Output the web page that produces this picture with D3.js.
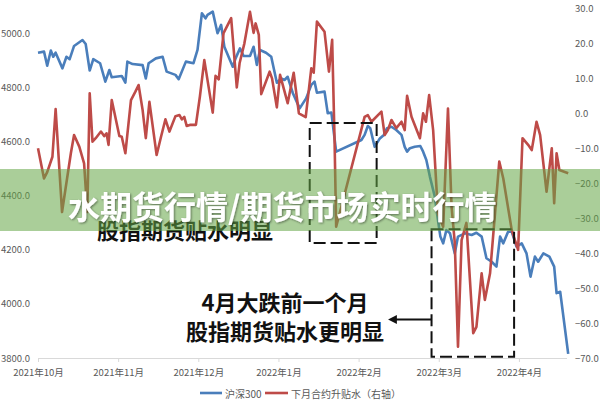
<!DOCTYPE html>
<html>
<head>
<meta charset="utf-8">
<script src="https://cdn.jsdelivr.net/npm/d3@7"></script>
<style>
html,body{margin:0;padding:0;background:#fff;}
svg{display:block;}
text{font-family:"Noto Sans CJK SC","Noto Sans",sans-serif;}
</style>
</head>
<body>
<svg id="chart" width="600" height="400"></svg>
<script>
// ---- data ----
// x position = trading-day index along the category axis
const hs300T = [0,1.5,2.3,3.2,3.8,4.4,6.1,7.1,7.9,9.0,11.1,11.9,12.9,13.8,15.5,16.8,17.8,18.4,20.9,21.8,22.3,23.6,26.1,26.9,27.6,29.4,31.1,32.1,34.3,35.1,36.9,38.8,39.8,40.9,41.8,42.3,43.6,44.8,45.7,46.5,48.6,49.3,50.4,51.3,52.9,53.8,54.6,55.4,56.9,58.2,59.6,60.7,61.5,62.3,63.6,65.3,66.9,68.2,69.0,69.6,71.5,72.3,73.2,74.4,80.7,81.5,82.3,82.9,84.0,85.3,86.3,87.1,88.2,89.4,90.7,91.5,92.1,92.8,94.0,95.4,96.1,96.9,97.8,99.0,99.8,100.4,101.1,101.9,102.8,104.0,104.8,106.5,108.2,109.4,110.7,111.9,113.2,114.4,115.3,116.1,117.3,118.2,119.4,120.7,121.9,122.9,124.0,124.8,126.1,127.6,128.8,129.4,130.3,132.3];
const hs300V = [4929,4933,4881,4937,4914,4929,4871,4914,4905,4954,4976,4961,4863,4905,4890,4822,4865,4838,4843,4818,4896,4887,4883,4834,4890,4908,4914,4859,4847,4831,4896,4890,4939,5075,5056,5069,5081,5001,5032,4951,4877,4908,4945,4917,4917,4951,4884,4939,4929,4914,4818,4834,4828,4840,4779,4723,4760,4810,4822,4781,4785,4705,4708,4563,4606,4625,4658,4650,4581,4612,4625,4650,4655,4643,4625,4581,4563,4576,4581,4584,4563,4532,4470,4397,4310,4249,4224,4273,4261,4187,4249,4261,4255,4263,4249,4169,4156,4138,4249,4224,4267,4267,4212,4224,4187,4101,4175,4156,4187,4175,4138,4040,4045,3815];

const basisT = [0,1.5,2.3,3.6,4.4,6.0,8.2,9.0,10.3,11.5,12.3,12.9,13.6,14.4,15.7,16.5,17.1,17.6,18.4,20.3,20.9,21.8,23.2,24.3,25.1,26.1,26.9,27.8,29.6,30.7,31.8,32.8,34.3,35.3,35.9,36.5,37.1,37.9,39.4,40.4,41.5,42.3,43.6,44.3,45.1,46.3,48.2,49.6,50.3,51.5,52.9,53.8,54.3,55.1,55.7,57.8,58.4,59.6,60.4,62.3,63.8,65.1,66.8,68.2,68.8,69.6,71.5,72.6,73.4,74.0,74.4,81.5,82.3,83.2,85.7,86.5,87.3,88.2,89.4,90.7,91.5,92.1,93.2,95.3,96.1,96.8,97.6,98.6,99.8,101.1,102.3,103.2,104.0,104.8,105.7,106.9,108.6,109.4,110.7,111.5,112.8,115.1,116.1,118.2,119.0,119.8,120.9,122.3,123.2,124.4,125.3,126.9,128.2,128.8,129.4,130.1,132.3];
const basisV = [-10.1,-18.7,-16.9,-12.5,1.1,-28.3,-11.5,-6.3,-9.6,-14.4,-28.3,5.6,-8.2,-7.2,-5.3,-6.6,-5.8,-9.1,3.7,-6.6,-6.8,-11.5,3.7,6.1,8.0,0.9,-7.2,3.2,-12.0,-6.8,-1.8,-5.3,-0.9,-0.6,-1.8,-1.1,-3.7,-3.4,-3.4,4.7,15.1,9.4,0.1,10.6,9.6,22.8,27.1,7.3,14.2,19.9,28.9,22.9,25.6,22.3,5.4,11.8,9.9,1.6,10.9,2.8,11.5,-0.1,-1.2,12.8,11.5,26.1,23.2,11.8,20.9,-7.7,-32.5,-1.1,-0.6,-2.5,0.4,-6.3,-4.9,-2.0,-4.3,-2.5,-4.9,4.9,-1.1,-7.2,-0.1,-2.5,5.1,-4.9,-28.7,-32.5,1.3,-26.8,-37.1,-66.8,-36.3,-31.4,-62.9,-61.1,-45.8,-53.4,-45.8,-13.9,-18.7,-33.4,-36.3,-39.1,-7.2,-9.1,-10.6,-2.5,-6.3,-22.5,-10.1,-25.8,-11.5,-16.3,-17.2];

const xTickT = [0,20,40,60,80,100,120];
const xTickLabels = ["2021年10月","2021年11月","2021年12月","2022年1月","2022年2月","2022年3月","2022年4月"];
const leftTicks = [3800,4000,4200,4400,4600,4800,5000];
const rightTicks = [-70,-60,-50,-40,-30,-20,-10,0,10,20,30];
const seriesNames = ["沪深300","下月合约升贴水（右轴）"];
// annotation boxes in data units: [t0, t1, leftValueTop, leftValueBottom]
const boxes = [[67.8,84.5,4669,4225],[98.2,118.8,4276,3805]];

// ---- chart ----
const svg = d3.select("#chart");
const x = d3.scaleLinear().domain([0,132]).range([38,567]);
const yL = d3.scaleLinear().domain([3800,5000]).range([358,33.5]);
const yR = d3.scaleLinear().domain([-70,30]).range([358,8]);

const blue = "#4a7ebb", red = "#be4b48", grey = "#595959";

// bottom axis
const gx = svg.append("g").attr("transform","translate(0,358)")
  .call(d3.axisBottom(x).tickValues(xTickT).tickFormat((d,i)=>xTickLabels[i])
        .tickSize(4).tickSizeOuter(0).tickPadding(7));
gx.select(".domain").attr("stroke","#d9d9d9").attr("d","M39,0.5H567");
gx.selectAll(".tick line").attr("stroke","#d9d9d9");
gx.selectAll("text").attr("fill",grey).style("font-size","9.5px");

// left axis
const gl = svg.append("g").attr("transform","translate(33,0)")
  .call(d3.axisLeft(yL).tickValues(leftTicks).tickFormat(d3.format(".1f")).tickSize(0).tickPadding(3));
gl.select(".domain").remove();
gl.selectAll("text").attr("fill",grey).style("font-size","9.5px");

// right axis
const gr = svg.append("g").attr("transform","translate(572,0)")
  .call(d3.axisRight(yR).tickValues(rightTicks).tickFormat(d3.format(".1f")).tickSize(0).tickPadding(3));
gr.select(".domain").remove();
gr.selectAll("text").attr("fill",grey).style("font-size","9.5px");

// lines
const blueLine = d3.line().x((d,i)=>x(hs300T[i])).y(d=>yL(d));
const redLine = d3.line().x((d,i)=>x(basisT[i])).y(d=>yR(d));
svg.append("path").datum(hs300V).attr("d",blueLine).attr("fill","none")
  .attr("stroke",blue).attr("stroke-width",2.6).attr("stroke-linejoin","round");
svg.append("path").datum(basisV).attr("d",redLine).attr("fill","none")
  .attr("stroke",red).attr("stroke-width",2.6).attr("stroke-linejoin","round");

// dashed boxes
svg.selectAll("rect.box").data(boxes).enter().append("rect")
  .attr("class","box")
  .attr("x",d=>x(d[0])).attr("y",d=>yL(d[2]))
  .attr("width",d=>x(d[1])-x(d[0])).attr("height",d=>yL(d[3])-yL(d[2]))
  .attr("fill","none").attr("stroke","#111").attr("stroke-width",2)
  .attr("stroke-dasharray","12,5");

// arrow
svg.append("defs").append("marker").attr("id","ah").attr("viewBox","0 0 10 10")
  .attr("refX",1).attr("refY",5).attr("markerWidth",4).attr("markerHeight",4)
  .attr("orient","auto-start-reverse")
  .append("path").attr("d","M0,0L10,5L0,10z").attr("fill","#111");
svg.append("line").attr("x1",x(boxes[1][0])).attr("x2",396).attr("y1",319.5).attr("y2",319.5)
  .attr("stroke","#111").attr("stroke-width",2.2).attr("marker-end","url(#ah)");

// annotation texts
const ann = svg.append("g").attr("font-weight","bold").attr("fill","#111")
  .attr("text-anchor","middle").style("font-size","22px");
ann.append("text").attr("x",285).attr("y",301).attr("dominant-baseline","central").text("4月大跌前一个月");
ann.append("text").attr("x",285).attr("y",330).attr("dominant-baseline","central").text("股指期货贴水更明显");
ann.append("text").attr("x",185).attr("y",229).attr("dominant-baseline","central").text("股指期货贴水明显");

// legend
const lg = svg.append("g").style("font-size","10px").attr("fill",grey);
lg.append("line").attr("x1",200).attr("x2",222).attr("y1",393).attr("y2",393).attr("stroke",blue).attr("stroke-width",2.6);
lg.append("text").attr("x",225).attr("y",393).attr("dominant-baseline","central").text(seriesNames[0]);
lg.append("line").attr("x1",265).attr("x2",288).attr("y1",393).attr("y2",393).attr("stroke",red).attr("stroke-width",2.6);
lg.append("text").attr("x",291).attr("y",393).attr("dominant-baseline","central").text(seriesNames[1]);

// overlay banner
svg.append("rect").attr("x",0).attr("y",169).attr("width",600).attr("height",62)
  .attr("fill","rgba(100,165,70,0.55)");
const f = svg.append("defs").append("filter").attr("id","sh").attr("x","-5%").attr("y","-20%").attr("width","110%").attr("height","140%");
f.append("feDropShadow").attr("dx",1).attr("dy",1).attr("stdDeviation",1.2).attr("flood-color","#000").attr("flood-opacity",0.45);
svg.append("text").attr("x",68).attr("y",205).attr("dominant-baseline","central")
  .attr("fill","#fff").attr("font-weight","bold").style("font-size","32px")
  .attr("filter","url(#sh)").text("水期货行情/期货市场实时行情");
</script>
</body>
</html>
